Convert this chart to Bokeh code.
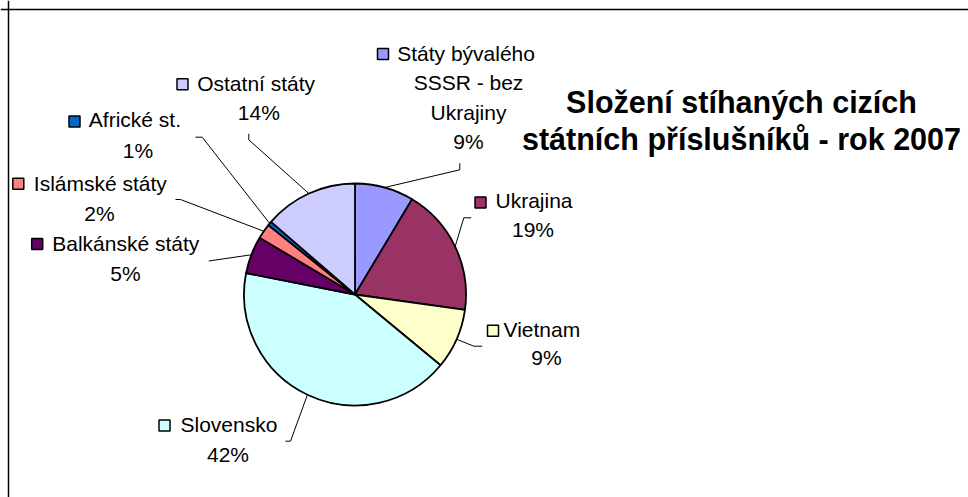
import math
from bokeh.plotting import figure
from bokeh.models import ColumnDataSource, Range1d, Span
from bokeh.core.properties import value
from bokeh.embed import file_html
from bokeh.resources import INLINE

# ---- data ----
categories = ["Státy bývalého SSSR - bez Ukrajiny", "Ukrajina", "Vietnam", "Slovensko",
              "Balkánské státy", "Islámské státy", "Africké st.", "Ostatní státy"]
shares = [8.6, 18.6, 8.8, 42.1, 5.45, 2.2, 0.6, 13.65]
colors = ["#9999FF", "#993366", "#FFFFCC", "#CCFFFF", "#660066", "#FF8080", "#0066CC", "#CCCCFF"]
title_lines = ["Složení stíhaných cizích", "státních příslušníků - rok 2007"]

# ---- layout (screen pixels) ----
W, H = 968, 497
OX, OY = 0, 0
def dx(sx): return sx - OX
def dy(sy): return OY + H - sy

CX, CY, R = 354.5, 294.0, 111.0
FONT = "Liberation Sans"
LBL = "21px"

name_lines = [["Státy bývalého", "SSSR - bez", "Ukrajiny"], ["Ukrajina"], ["Vietnam"], ["Slovensko"],
              ["Balkánské státy"], ["Islámské státy"], ["Africké st."], ["Ostatní státy"]]
key_pos = [(382.5, 53.5), (480, 202), (492.5, 330.3), (164, 425), (36.7, 243.5), (17.8, 183.3), (74, 121), (182, 83.8)]
first_left = [396.7, 495, 503, 180, 51.7, 33.3, 88.3, 196.7]
first_y = [52.5, 200, 329, 424, 243, 183, 119, 83]
extra_pos = [[(468, 82), (468, 111.5)], [], [], [], [], [], [], []]
pct_pos = [(468, 141), (532.5, 229), (546, 357), (227.5, 454), (125, 273), (99, 213), (137.5, 150), (258.3, 111.7)]
leader_pts = [[(459.3, 162.7), (459.3, 169.3)], [(470.7, 217.3), (463.3, 217.3)], [(481.7, 345.7), (473.3, 345.7)],
              [(285, 440.7), (290, 440.7)], [(208.3, 260.5)], [(175, 199), (180, 199)],
              [(195, 136.7), (201.7, 136.7)], [(248.3, 133.3), (248.3, 139.3)]]

p = figure(width=W, height=H, output_backend="svg", toolbar_location=None,
           x_range=Range1d(0, W), y_range=Range1d(0, H),
           x_axis_location=None, y_axis_location=None, min_border=0)
p.grid.visible = False
p.outline_line_color = None
p.background_fill_color = "white"
p.border_fill_color = "white"

# frame lines (chart area border, right/bottom beyond window)
p.add_layout(Span(location=dx(8), dimension="height", line_color="black", line_width=1.5))
p.add_layout(Span(location=dy(9), dimension="width", line_color="black", line_width=1.5))

# wedges
total = sum(shares)
starts, ends, mids = [], [], []
cum = 0.0
for s in shares:
    a0 = math.pi / 2 - 2 * math.pi * cum / total
    cum += s
    a1 = math.pi / 2 - 2 * math.pi * cum / total
    starts.append(a0)
    ends.append(a1)
    mids.append((a0 + a1) / 2)
src = ColumnDataSource(dict(x=[dx(CX)] * len(shares), y=[dy(CY)] * len(shares),
                            start=starts, end=ends, color=colors))
p.wedge(x="x", y="y", radius=R, start_angle="start", end_angle="end", direction="clock",
        fill_color="color", line_color="black", line_width=1.8, source=src)

# leader lines
for pts, m in zip(leader_pts, mids):
    xs = [dx(a) for a, b in pts] + [dx(CX) + R * math.cos(m)]
    ys = [dy(b) for a, b in pts] + [dy(CY) + R * math.sin(m)]
    p.line(xs, ys, line_color="black", line_width=1)

# keys
p.scatter([dx(a) for a, b in key_pos], [dy(b) for a, b in key_pos], marker="square", size=11,
          fill_color=colors, line_color="black", line_width=1.5)

# first name lines
p.text([dx(v) for v in first_left], [dy(v) for v in first_y], text=[n[0] for n in name_lines],
       text_font=value(FONT), text_font_size=LBL, text_align="left", text_baseline="middle",
       text_color="black")
# extra name lines
ex, ey, et = [], [], []
for n, pos in zip(name_lines, extra_pos):
    for t, (a, b) in zip(n[1:], pos):
        ex.append(dx(a)); ey.append(dy(b)); et.append(t)
p.text(ex, ey, text=et, text_font=value(FONT), text_font_size=LBL, text_align="center",
       text_baseline="middle", text_color="black")
# percentages
p.text([dx(a) for a, b in pct_pos], [dy(b) for a, b in pct_pos],
       text=[f"{round(100 * s / total)}%" for s in shares],
       text_font=value(FONT), text_font_size=LBL, text_align="center", text_baseline="middle",
       text_color="black")

# title
p.text([dx(741), dx(741)], [dy(101), dy(138)], text=title_lines, text_font=value(FONT),
       text_font_size="30.5px", text_font_style="bold", text_align="center", text_baseline="middle",
       text_color="black")

open("out.html", "w").write(file_html(p, INLINE))
